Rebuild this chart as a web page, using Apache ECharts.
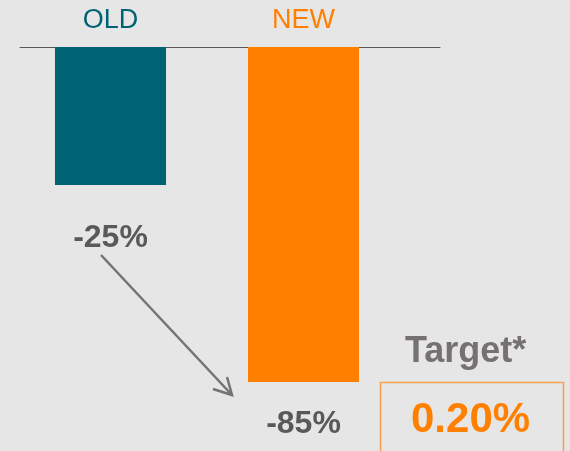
<!DOCTYPE html>
<html>
<head>
<meta charset="utf-8">
<script src="https://cdn.jsdelivr.net/npm/echarts@6/dist/echarts.min.js"></script>
<style>
  html, body { margin: 0; padding: 0; background: #e6e6e6; }
  #chart { width: 570px; height: 451px; }
</style>
</head>
<body>
<div id="chart"></div>
<script>
// categories and colours
var categories = ['OLD', 'NEW'];
var barColors = ['#006373', '#ff8000'];
// drawn bar lengths (the slide is not to scale) and the labels printed under them
var barLengths = [-35, -85];
var valueLabels = ['-25%', '-85%'];
var labelGaps = [37, 26];
var targetTitle = 'Target*';
var targetValue = '0.20%';

var myChart = echarts.init(document.getElementById('chart'));

myChart.setOption({
  backgroundColor: '#e6e6e6',
  animation: false,
  grid: [
    { left: 14, width: 386, top: 47, height: 335 },
    { left: 20, width: 420, top: 47, height: 1 }
  ],
  xAxis: [
    {
      type: 'category',
      gridIndex: 0,
      position: 'top',
      data: categories.map(function (c, i) {
        return { value: c, textStyle: { color: barColors[i] } };
      }),
      axisLine: { show: false },
      axisTick: { show: false },
      axisLabel: {
        margin: 13,
        fontSize: 27,
        fontFamily: 'Liberation Sans'
      }
    },
    {
      type: 'value',
      gridIndex: 1,
      position: 'top',
      min: 0,
      max: 1,
      axisLine: { show: true, onZero: false, lineStyle: { color: '#595959', width: 1 } },
      axisTick: { show: false },
      axisLabel: { show: false },
      splitLine: { show: false }
    }
  ],
  yAxis: [
    { type: 'value', gridIndex: 0, min: -85, max: 0, show: false },
    { type: 'value', gridIndex: 1, show: false }
  ],
  series: [
    {
      type: 'bar',
      xAxisIndex: 0,
      yAxisIndex: 0,
      barWidth: 111,
      data: barLengths.map(function (v, i) {
        return {
          value: v,
          itemStyle: { color: barColors[i] },
          label: {
            show: true,
            position: 'bottom',
            distance: labelGaps[i],
            formatter: valueLabels[i],
            fontSize: 32,
            fontWeight: 'bold',
            fontFamily: 'Liberation Sans',
            color: '#595959'
          }
        };
      })
    }
  ],
  graphic: [
    // arrow from old to new
    {
      type: 'line',
      shape: { x1: 101, y1: 255, x2: 232, y2: 395 },
      style: { stroke: '#737373', lineWidth: 2.5 }
    },
    {
      type: 'polyline',
      shape: { points: [[227, 377], [232, 395], [213, 389]] },
      style: { stroke: '#737373', lineWidth: 2.5, fill: null }
    },
    {
      type: 'text',
      left: 405,
      top: 334,
      style: {
        text: targetTitle,
        font: 'bold 36px "Liberation Sans"',
        fill: '#767171'
      }
    },
    {
      type: 'rect',
      shape: { x: 380.5, y: 382.5, width: 183, height: 80 },
      style: { stroke: '#f8a04c', lineWidth: 1.5, fill: null }
    },
    {
      type: 'text',
      left: 411,
      top: 399,
      style: {
        text: targetValue,
        font: 'bold 42px "Liberation Sans"',
        fill: '#ff8000'
      }
    }
  ]
});
</script>
</body>
</html>
